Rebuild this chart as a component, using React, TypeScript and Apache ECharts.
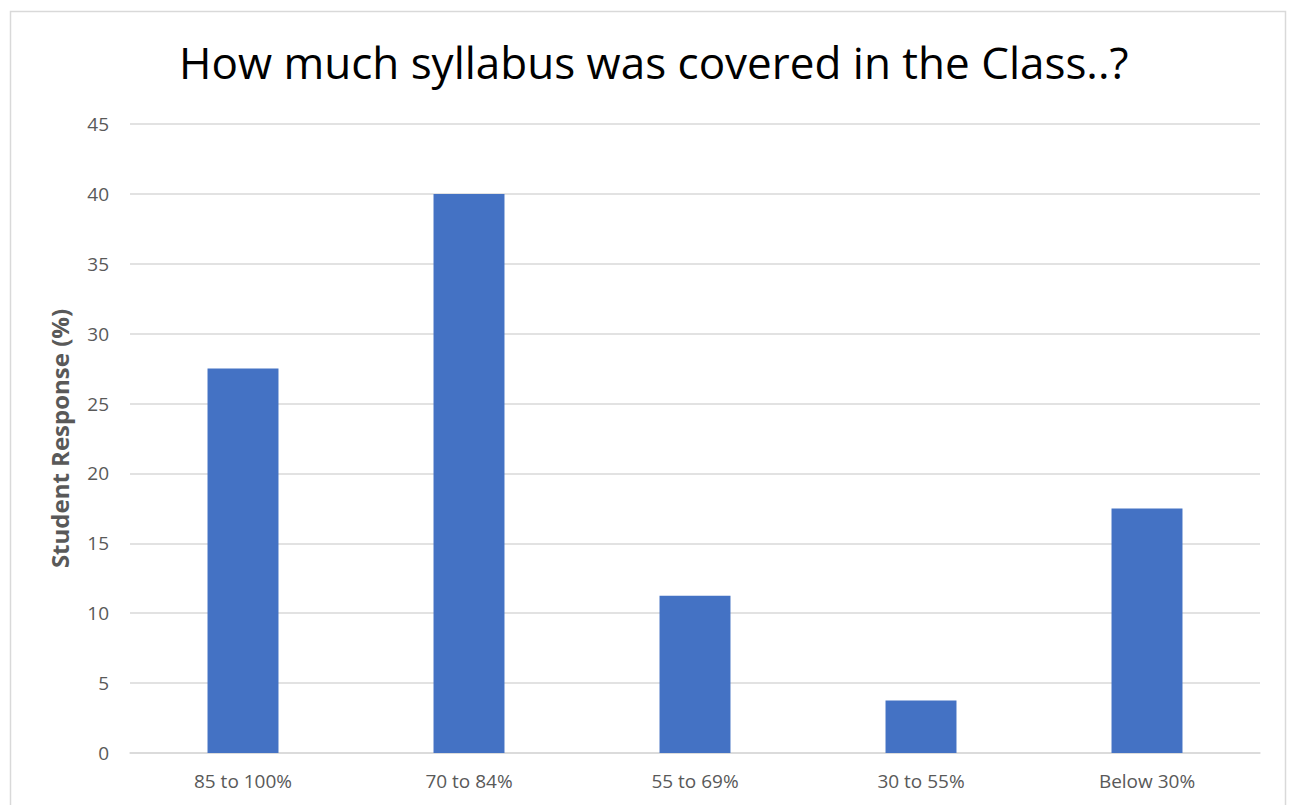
import React, { useEffect, useRef } from "react";
import * as echarts from "echarts";

const categories = ["85 to 100%", "70 to 84%", "55 to 69%", "30 to 55%", "Below 30%"];
const responses = [27.5, 40, 11.25, 3.75, 17.5];
const titleText = "How much syllabus was covered in the Class..?";
const yAxisName = "Student Response (%)";

export default function App() {
  const ref = useRef<HTMLDivElement>(null);
  useEffect(() => {
    if (!ref.current) return;
    const chart = echarts.init(ref.current, null, { renderer: "svg" });
    chart.setOption({
      animation: false,
      backgroundColor: "#ffffff",
      title: {
        text: titleText,
        left: 174,
        top: 35,
        textStyle: { fontFamily: "Open Sans", fontSize: 44, fontWeight: "normal", color: "#000000" },
      },
      graphic: [
        {
          type: "rect",
          shape: { x: 10.5, y: 11.5, width: 1275, height: 820 },
          style: { fill: "none", stroke: "#d9d9d9", lineWidth: 1.5 },
          silent: true,
        },
      ],
      grid: { left: 130, right: 31, top: 124, bottom: 52 },
      xAxis: {
        type: "category",
        data: categories,
        axisLine: { show: true, lineStyle: { color: "#d9d9d9", width: 1.5 } },
        axisTick: { show: false },
        axisLabel: { color: "#595959", fontFamily: "Open Sans", fontSize: 19, margin: 18 },
      },
      yAxis: {
        type: "value",
        min: 0,
        max: 45,
        interval: 5,
        name: yAxisName,
        nameLocation: "middle",
        nameGap: 59,
        nameTextStyle: { color: "#595959", fontFamily: "Open Sans", fontSize: 24, fontWeight: "bold" },
        axisLine: { show: false },
        axisTick: { show: false },
        axisLabel: { color: "#595959", fontFamily: "Open Sans", fontSize: 19, margin: 21 },
        splitLine: { lineStyle: { color: "#d9d9d9", width: 1.5 } },
      },
      series: [
        {
          type: "bar",
          data: responses,
          barWidth: "31.4%",
          itemStyle: { color: "#4472c4" },
        },
      ],
    });
    return () => chart.dispose();
  }, []);
  return <div ref={ref} style={{ position: "fixed", left: 0, top: 0, width: 1291, height: 805 }} />;
}
